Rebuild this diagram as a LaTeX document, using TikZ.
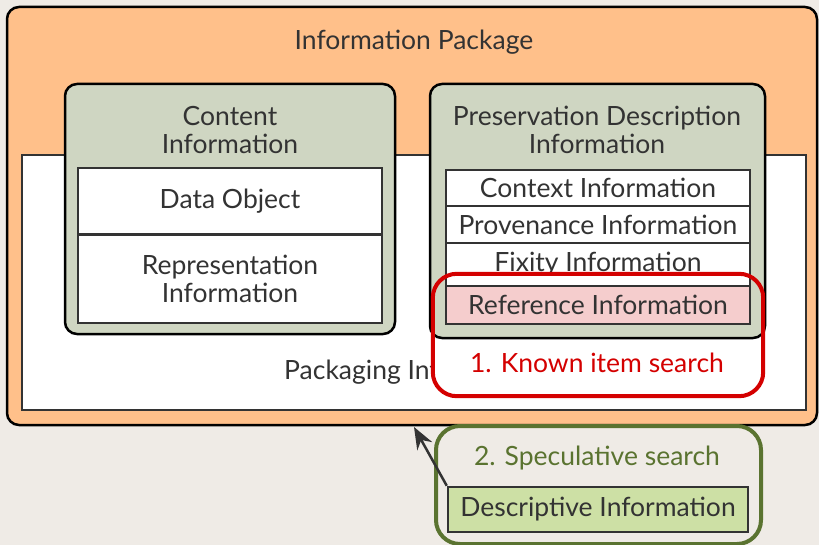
\documentclass[tikz,border=0pt]{standalone}
\usepackage{fontspec}
\setmainfont{Lato}
\usetikzlibrary{arrows.meta}
\definecolor{bg}{HTML}{EFEBE6}
\definecolor{peach}{HTML}{FFC08A}
\definecolor{sage}{HTML}{CFD6C2}
\definecolor{ink}{HTML}{333333}
\definecolor{pinkf}{HTML}{F5CDCD}
\definecolor{redl}{HTML}{D40000}
\definecolor{olive}{HTML}{5A7330}
\definecolor{lgreen}{HTML}{CDE0A5}
\tikzset{
  txt/.style={text=ink, font=\fontsize{26.5}{28}\selectfont, align=center},
  inbox/.style={draw=ink, line width=2.5pt, fill=white, inner sep=0pt, txt},
  roundbox/.style={draw=black, line width=2.5pt, rounded corners=12pt, inner sep=0pt},
}
\begin{document}
\begin{tikzpicture}[x=1pt,y=-1pt]
\fill[bg] (0,0) rectangle (819,545);
\useasboundingbox (0,0) rectangle (819,545);
% outer package
\node[roundbox, fill=peach, minimum width=810pt, minimum height=418pt] (outer) at (412,216) {};
\node[txt] (outertitle) at (414,42) {Information Package};
% packaging
\node[draw=ink, line width=2.5pt, fill=white, minimum width=784pt, minimum height=255pt] (pack) at (414,282.5) {};
\node[txt] (packtxt) at (414,372) {Packaging Information};
% red region fill
\node[fill=white, rounded corners=24pt, minimum width=330pt, minimum height=122pt, inner sep=0pt] (red) at (598,335) {};
% content information
\node[roundbox, fill=sage, minimum width=330pt, minimum height=250pt] (content) at (230,209) {};
\node[txt] (contenttitle) at (230,130) {Content\\Information};
\node[inbox, minimum width=304pt, minimum height=66pt] (data) at (230,201) {Data Object};
\node[inbox, minimum width=304pt, minimum height=88pt] (repr) at (230,279) {Representation\\Information};
% PDI
\node[roundbox, fill=sage, minimum width=335pt, minimum height=254pt] (pdi) at (597.5,211) {};
\node[txt] (pdititle) at (597,130) {Preservation Description\\Information};
\node[inbox, minimum width=304pt, minimum height=36pt] (context) at (598,188) {Context Information};
\node[inbox, minimum width=304pt, minimum height=37pt] (prov) at (598,224.5) {Provenance Information};
\node[inbox, minimum width=304pt, minimum height=43pt] (fixity) at (598,264.5) {Fixity Information};
\node[inbox, fill=pinkf, minimum width=304pt, minimum height=38pt] (ref) at (598,305) {Reference Information};
% red outline
\draw[redl, line width=4pt, rounded corners=24pt] (red.south west) rectangle (red.north east);
\node[txt, text=redl] (known) at (597,363) {1. Known item search};
% speculative
\node[draw=olive, line width=4pt, rounded corners=24pt, minimum width=325pt, minimum height=118pt, inner sep=0pt] (spec) at (598.5,485) {};
\node[txt, text=olive] (spectxt) at (597,458) {2. Speculative search};
\node[inbox, fill=lgreen, minimum width=300pt, minimum height=45pt] (desc) at (598,509.5) {Descriptive Information};
\coordinate (tip) at (414,427);
\draw[ink, line width=2.5pt, -{Stealth[length=22pt,width=17pt]}] (desc.north west) -- (tip);
\end{tikzpicture}
\end{document}
